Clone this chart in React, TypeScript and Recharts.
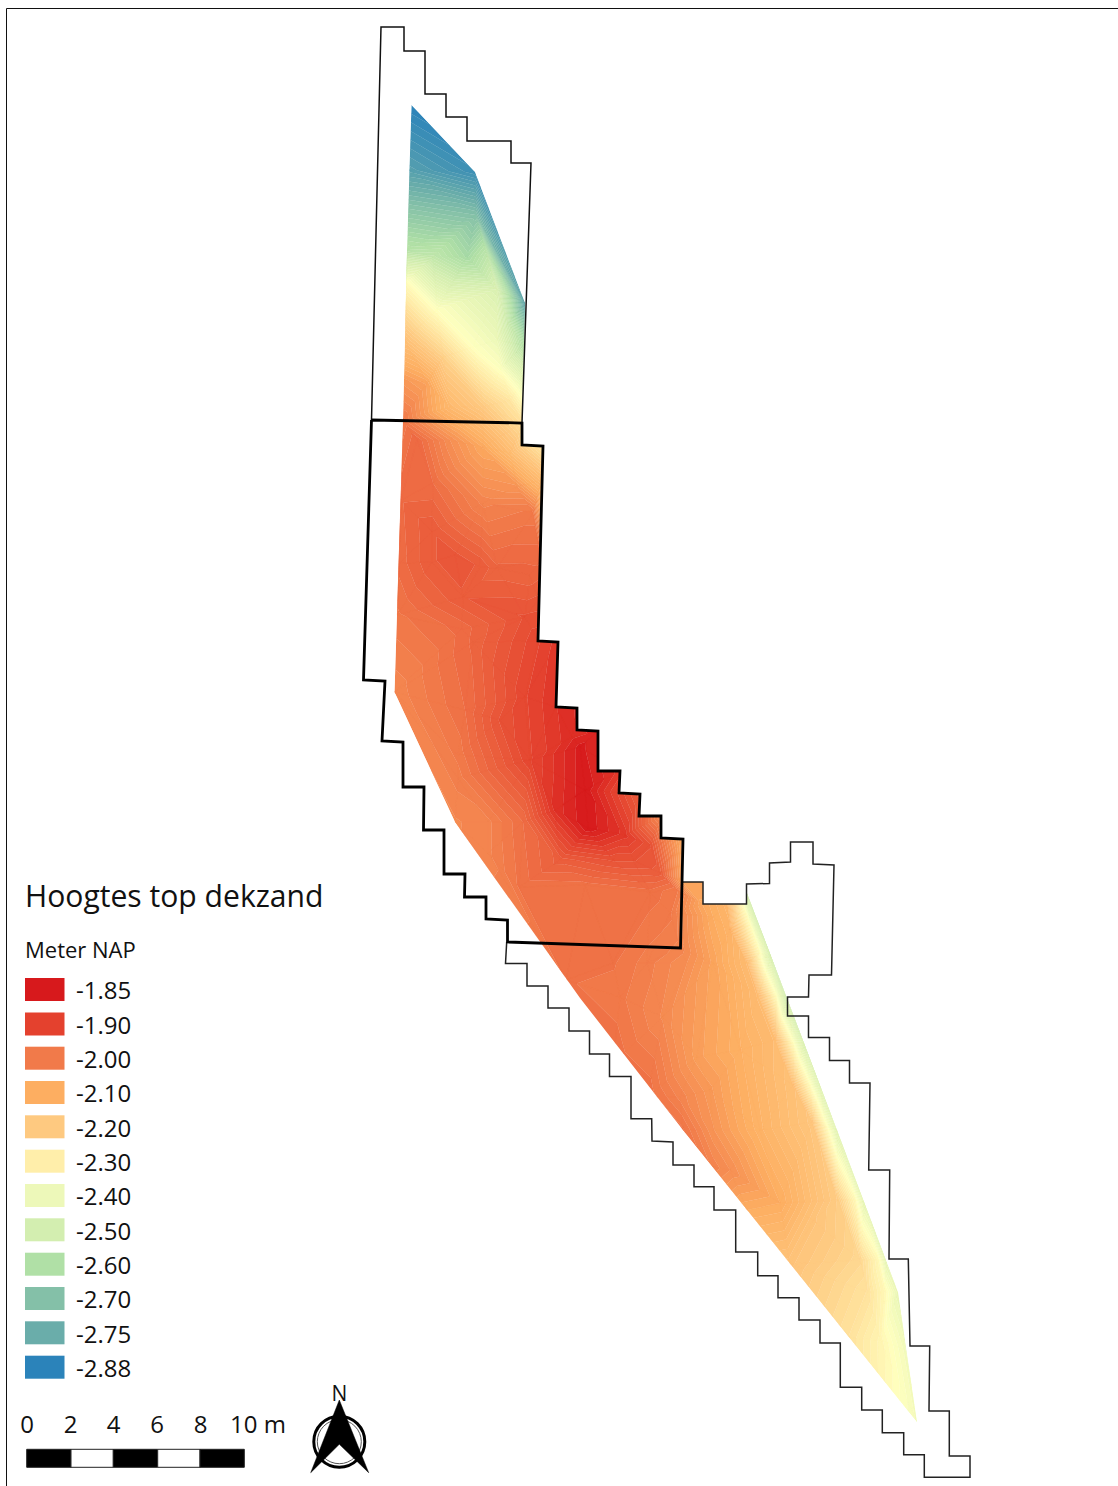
import React from 'react';
import { ScatterChart, Scatter, XAxis, YAxis, ReferenceArea } from 'recharts';

type Pt = { x: number; y: number };
const toPts = (a: number[][]): Pt[] => a.map(([x, y]) => ({ x, y }));

// Map units are the plan's own grid. Legend classes (Meter NAP)
const legendLabels = ['-1.85', '-1.90', '-2.00', '-2.10', '-2.20', '-2.30', '-2.40', '-2.50', '-2.60', '-2.70', '-2.75', '-2.88'];
const legendColors = ['#d7191c', '#e4412e', '#f17a4a', '#fdae61', '#fec980', '#ffeeaa', '#edf8b9', '#d3eeb0', '#b0e0a6', '#84c0a8', '#6aadaa', '#2b83ba'];
const legendRowY = [978, 1012.5, 1046.7, 1081, 1115.3, 1149.7, 1184, 1218.3, 1252.7, 1287, 1321.3, 1355.7];

// Colour ramp of the surface
const rampValues = [-1.85, -1.9, -2.0, -2.1, -2.2, -2.3, -2.35, -2.4, -2.5, -2.6, -2.7, -2.75, -2.88];
const rampColors = ['#d7191c', '#e4412e', '#f17a4a', '#fdae61', '#fec980', '#ffeeaa', '#ffffbf', '#edf8b9', '#d3eeb0', '#b0e0a6', '#84c0a8', '#6aadaa', '#2b83ba'];

// Survey points: x, y, top of the cover sand in m NAP
const surveyNorth = [
  [411.5, 105, -2.88], [475, 172, -2.84], [409, 170, -2.79], [407, 250, -2.58], [406.5, 282, -2.34],
  [525, 303, -2.77], [476, 215, -2.7], [487, 255, -2.56], [497, 290, -2.47], [497, 340, -2.4], [501, 368, -2.36],
  [508, 323, -2.52], [467, 257, -2.62], [433, 257, -2.55], [437, 310, -2.35], [473, 347, -2.35], [523, 345, -2.58],
  [520, 385, -2.38], [522, 423, -2.26], [405, 340, -2.17], [404, 380, -2.06], [403, 420, -2.0],
  [443, 357, -2.22], [427, 383, -2.08], [450, 407, -2.14], [483, 407, -2.2], [510, 400, -2.28],
];
const surveyMiddle = [
  [417, 440, -1.97], [450, 440, -2.04], [483, 447, -2.09], [510, 453, -2.15], [522, 445, -2.22], [543, 446, -2.28],
  [541, 480, -2.15], [517, 487, -2.05], [533, 513, -2.0], [483, 503, -2.02], [433, 483, -1.98], [401, 500, -1.97],
  [432, 532, -1.945], [432, 562, -1.945], [463, 597, -1.945], [480, 567, -1.945], [455, 555, -1.94], [497, 568, -1.965],
  [399, 563, -1.975], [397, 615, -1.995], [394.5, 692, -2.025], [462, 629, -1.975], [530, 575, -1.965], [541, 560, -1.97],
  [538, 600, -1.94], [525, 617, -1.93], [538, 641, -1.91], [558, 642, -1.89], [473, 642, -1.965], [525, 697, -1.91],
  [572, 737, -1.875], [556, 707, -1.885], [577, 708, -1.87], [465, 710, -1.98], [500, 720, -1.93], [530, 760, -1.91],
];
const surveyPeak = [
  [580, 747, -1.855], [585, 790, -1.85], [588, 828, -1.85], [598, 731, -1.87], [620, 771, -1.89], [640, 794, -1.95],
  [661, 816, -2.03], [683, 839, -2.1], [560, 860, -1.95], [585, 885, -1.985], [613, 860, -1.93], [633, 860, -1.93],
  [625, 835, -1.89], [650, 845, -1.93],
  [660, 873, -1.95], [677, 890, -2.0], [650, 892, -1.985], [683, 882, -2.08], [703, 882, -2.08], [703, 904, -2.09],
  [523, 822, -1.98], [458, 755, -2.0], [458, 778, -2.01], [455, 822, -2.03], [488, 822, -2.02], [488, 853, -2.02],
  [519, 887, -1.99], [555, 810, -1.88],
];
const surveySouth = [
  [566, 980, -1.99], [613, 963, -1.99], [647, 963, -2.01], [680, 948, -2.02], [670, 913, -2.0], [687, 963, -2.04],
  [713, 963, -2.08], [747, 963, -2.15], [730, 930, -2.12], [713, 917, -2.1], [727, 904, -2.13], [743, 905, -2.34],
  [747, 893, -2.5], [750, 925, -2.34], [760, 953, -2.34], [776, 996, -2.34], [793, 1043, -2.34], [810, 1085, -2.34], [825, 1123, -2.34],
  [771, 956, -2.48], [787, 996, -2.52], [804, 1043, -2.47], [820, 1085, -2.45], [837, 1130, -2.44],
  [758, 996, -2.15], [775, 1040, -2.15], [793, 1085, -2.17], [812, 1122, -2.19], [663, 1017, -2.03], [697, 1057, -2.07], [620, 997, -2.0],
  [613, 1063, -1.98], [647, 1097, -1.98], [683, 1130, -1.99], [680, 1097, -2.02], [710, 1090, -2.06], [740, 1050, -2.11],
  [713, 1130, -2.05], [760, 1130, -2.12], [713, 1167, -2.02], [730, 1170, -2.04], [747, 1210, -2.1], [780, 1203, -2.1],
  [790, 1264, -2.18], [850, 1338, -2.27], [917, 1422, -2.38], [813, 1220, -2.18], [838, 1200, -2.21], [860, 1260, -2.24], [868, 1292, -2.27],
  [885, 1292, -2.33], [878, 1260, -2.33], [855, 1200, -2.33], [880, 1340, -2.32], [898, 1292, -2.41], [864, 1202, -2.42], [886, 1260, -2.42], [905, 1350, -2.38],
];
const surveyPoints = [...surveyNorth, ...surveyMiddle, ...surveyPeak, ...surveySouth];
const surveyData = toPts(surveyPoints);

// Extent of the interpolated surface
const surfaceExtent = toPts([
  [411.5, 105], [475, 172], [525, 303], [522, 423], [522, 445], [543, 446], [538, 641], [558, 642], [556, 707], [577, 708],
  [577, 730], [598, 731], [598, 771], [620, 771], [619, 793], [640, 794], [639, 816], [661, 816], [661, 838], [683, 839],
  [683, 882], [703, 882], [703, 904], [746, 904], [747, 893], [837, 1130], [898, 1292], [917, 1422], [683, 1130], [580, 998],
  [455, 822], [394.5, 692], [403, 420], [407, 250], [411.5, 105],
]);

// Excavation outlines
const trenchNorth = toPts([
  [371.5, 420], [381, 27], [404, 27], [404, 51], [425, 51], [425, 94], [446, 94], [446, 117], [467, 117], [467, 141],
  [511, 141], [511, 163], [531, 163], [522, 423],
]);
const trenchMiddle = toPts([
  [371.5, 420], [522, 423], [522, 445], [543, 446], [538, 641], [558, 642], [556, 707], [577, 708], [577, 730], [598, 731],
  [598, 771], [620, 771], [619, 793], [640, 794], [639, 816], [661, 816], [661, 838], [683, 839], [680.5, 948], [507.5, 942],
  [507.5, 920], [486, 919], [486, 897], [464.5, 897], [465, 874], [444, 874], [444, 830], [423.5, 830], [424, 787], [403, 787],
  [403, 742], [382, 741], [385, 681], [363.5, 680], [371.5, 420],
]);
const trenchSouth = toPts([
  [683, 882], [703, 882], [703, 904], [746.5, 904], [746.5, 884], [769.5, 883.5], [769.5, 863], [790.5, 862], [790.5, 842],
  [813, 842], [813, 864], [834, 865], [831.5, 975], [809, 975], [808.5, 997], [787.5, 997], [787.5, 1016], [808.5, 1016],
  [808.5, 1037.5], [829.5, 1037.5], [829.5, 1060.5], [849.5, 1060.5], [849.5, 1083], [870, 1083], [868.7, 1170], [889.7, 1170],
  [889, 1259], [908.3, 1259], [910, 1346], [929.7, 1346], [929, 1411], [949.3, 1411], [949.3, 1456], [970, 1456], [970, 1477.3],
  [924.3, 1477.3], [924.3, 1454.7], [903.7, 1454.7], [903.7, 1432.7], [882.3, 1432.7], [882.3, 1410], [861.7, 1410], [861.7, 1387.3],
  [840.3, 1387.3], [840.3, 1343], [820, 1343], [820, 1320], [799, 1320], [799, 1297.7], [778, 1297.7], [778, 1275.7], [757.7, 1275.7],
  [757.7, 1252], [735.7, 1252], [735.7, 1210], [714, 1210], [714, 1186.7], [694, 1186.7], [694, 1165], [673, 1165], [673, 1142],
  [652, 1141], [651.7, 1118.7], [631, 1118.7], [631, 1076.5], [609.5, 1076.5], [609.5, 1054], [589.5, 1054], [589.5, 1031], [569, 1031],
  [569, 1008], [548, 1008], [548, 986], [527, 986], [527, 963.5], [505.5, 963.5], [506.7, 942],
]);
const frameLine = toPts([[6.5, 1486], [6.5, 8.5], [1118, 8.5]]);

// Scale bar (metres along the plan)
const scaleBreaks = [26.7, 71, 113.3, 157.7, 200, 244.3];
const scaleLabels = [
  { x: 27, y: 1433, label: '0' }, { x: 70.7, y: 1433, label: '2' }, { x: 113.5, y: 1433, label: '4' },
  { x: 157, y: 1433, label: '6' }, { x: 200.5, y: 1433, label: '8' }, { x: 258, y: 1433, label: '10 m' },
];
const titleText = [{ x: 25, y: 907, label: 'Hoogtes top dekzand' }];
const unitText = [{ x: 25, y: 958, label: 'Meter NAP' }];
const northLabel = [{ x: 339.3, y: 1401, label: 'N' }];
const northCentre = [{ x: 339.3, y: 1441.7 }];
const northArrow = toPts([[339.3, 1400], [368.7, 1472.7], [339.3, 1444.3], [310.7, 1472.7], [339.3, 1400]]);

const legendData = legendRowY.map((y, i) => ({ x: 25, y, label: legendLabels[i], color: legendColors[i] }));

const FONT = '"Open Sans", "Noto Sans", sans-serif';
const BAND = 0.012;

function hexToRgb(h: string) {
  return [1, 3, 5].map((i) => parseInt(h.slice(i, i + 2), 16));
}
function rampColor(z: number) {
  if (z >= rampValues[0]) return rampColors[0];
  for (let i = 1; i < rampValues.length; i++) {
    if (z >= rampValues[i]) {
      const t = (rampValues[i - 1] - z) / (rampValues[i - 1] - rampValues[i]);
      const a = hexToRgb(rampColors[i - 1]);
      const b = hexToRgb(rampColors[i]);
      return `rgb(${a.map((v, k) => Math.round(v + (b[k] - v) * t)).join(',')})`;
    }
  }
  return rampColors[rampColors.length - 1];
}

type V = { x: number; y: number; z: number };
function delaunay(pts: V[]) {
  const n = pts.length;
  const all = [...pts, { x: -20000, y: -20000, z: 0 }, { x: 30000, y: -20000, z: 0 }, { x: 0, y: 30000, z: 0 }];
  let tris: number[][] = [[n, n + 1, n + 2]];
  const inCirc = (t: number[], p: V) => {
    const [a, b, c] = t.map((i) => all[i]);
    const ax = a.x - p.x, ay = a.y - p.y, bx = b.x - p.x, by = b.y - p.y, cx = c.x - p.x, cy = c.y - p.y;
    const det = (ax * ax + ay * ay) * (bx * cy - cx * by) - (bx * bx + by * by) * (ax * cy - cx * ay) + (cx * cx + cy * cy) * (ax * by - bx * ay);
    const orient = (b.x - a.x) * (c.y - a.y) - (b.y - a.y) * (c.x - a.x);
    return orient > 0 ? det > 0 : det < 0;
  };
  for (let i = 0; i < n; i++) {
    const bad = tris.filter((t) => inCirc(t, all[i]));
    const good = tris.filter((t) => !inCirc(t, all[i]));
    const edges = new Map<string, number[]>();
    bad.forEach((t) => {
      [[t[0], t[1]], [t[1], t[2]], [t[2], t[0]]].forEach(([a, b]) => {
        const k = a < b ? `${a}_${b}` : `${b}_${a}`;
        if (edges.has(k)) edges.set(k, []);
        else edges.set(k, [a, b]);
      });
    });
    edges.forEach((e) => {
      if (e.length) good.push([e[0], e[1], i]);
    });
    tris = good;
  }
  return tris.filter((t) => t.every((i) => i < n)).map((t) => t.map((i) => all[i]));
}
function clipZ(poly: V[], level: number, above: boolean) {
  const out: V[] = [];
  const keep = (v: V) => (above ? v.z >= level : v.z <= level);
  poly.forEach((a, i) => {
    const b = poly[(i + 1) % poly.length];
    if (keep(a)) out.push(a);
    if (keep(a) !== keep(b)) {
      const t = (level - a.z) / (b.z - a.z);
      out.push({ x: a.x + (b.x - a.x) * t, y: a.y + (b.y - a.y) * t, z: level });
    }
  });
  return out;
}

// Contour shading of the survey points, drawn at the positions the chart's scales gave them
function ContourSurface(props: any) {
  const verts: V[] = props.points.map((p: Pt, i: number) => ({ x: p.x, y: p.y, z: surveyPoints[i][2] }));
  const tris = delaunay(verts);
  const paths = new Map<number, string>();
  tris.forEach((t) => {
    const zs = t.map((v) => v.z);
    const lo = Math.floor((Math.min(...zs) + 3) / BAND);
    const hi = Math.floor((Math.max(...zs) + 3) / BAND);
    for (let b = lo; b <= hi; b++) {
      const p = clipZ(clipZ(t, b * BAND - 3, true), (b + 1) * BAND - 3, false);
      if (p.length < 3) continue;
      const d = 'M' + p.map((v) => `${v.x.toFixed(2)} ${v.y.toFixed(2)}`).join('L') + 'Z';
      paths.set(b, (paths.get(b) || '') + d);
    }
  });
  return (
    <g clipPath="url(#surfaceExtent)">
      {[...paths.entries()].map(([b, d]) => {
        const c = rampColor((b + 0.5) * BAND - 3);
        return <path key={b} d={d} fill={c} stroke={c} strokeWidth={0.25} />;
      })}
    </g>
  );
}
function ExtentClip(props: any) {
  const d = 'M' + props.points.map((p: Pt) => `${p.x} ${p.y}`).join('L') + 'Z';
  return (
    <clipPath id="surfaceExtent">
      <path d={d} />
    </clipPath>
  );
}
const NoMark = () => <g />;
const textShape = (size: number, anchor: string) => (p: any) => (
  <text x={p.cx} y={p.cy} fontFamily={FONT} fontSize={size} fill="#111" textAnchor={anchor}>
    {p.payload.label}
  </text>
);
const LegendRow = (p: any) => (
  <g>
    <rect x={p.cx} y={p.cy} width={39.5} height={23} fill={p.payload.color} />
    <text x={p.cx + 51} y={p.cy + 21.3} fontFamily={FONT} fontSize={24} fill="#111">
      {p.payload.label}
    </text>
  </g>
);
const NorthRing = (p: any) => (
  <g fill="none">
    <circle cx={p.cx} cy={p.cy} r={25.5} stroke="#000" strokeWidth={3} />
    <circle cx={p.cx} cy={p.cy} r={22} stroke="#555" strokeWidth={1} />
  </g>
);

export default function App() {
  return (
    <div style={{ position: 'absolute', left: 0, top: 0, width: 1118, height: 1486, background: '#fff' }}>
      <ScatterChart width={1118} height={1486} margin={{ top: 0, right: 0, bottom: 0, left: 0 }}>
        <XAxis type="number" dataKey="x" domain={[0, 1118]} hide allowDataOverflow />
        <YAxis type="number" dataKey="y" domain={[0, 1486]} reversed hide allowDataOverflow />
        <Scatter data={surfaceExtent} shape={NoMark} line={ExtentClip} isAnimationActive={false} />
        <Scatter data={surveyData} shape={NoMark} line={ContourSurface} isAnimationActive={false} />
        <Scatter data={frameLine} shape={NoMark} line={{ stroke: '#111', strokeWidth: 1, fill: 'none' }} isAnimationActive={false} />
        <Scatter data={trenchNorth} shape={NoMark} line={{ stroke: '#111', strokeWidth: 1.5, fill: 'none' }} isAnimationActive={false} />
        <Scatter data={trenchSouth} shape={NoMark} line={{ stroke: '#222', strokeWidth: 1.5, fill: 'none' }} isAnimationActive={false} />
        <Scatter data={trenchMiddle} shape={NoMark} line={{ stroke: '#000', strokeWidth: 2.8, fill: 'none' }} isAnimationActive={false} />
        <Scatter data={titleText} shape={textShape(30.1, 'start')} isAnimationActive={false} />
        <Scatter data={unitText} shape={textShape(22, 'start')} isAnimationActive={false} />
        <Scatter data={legendData} shape={LegendRow} isAnimationActive={false} />
        {scaleBreaks.slice(0, -1).map((x, i) => (
          <ReferenceArea key={x} x1={x} x2={scaleBreaks[i + 1]} y1={1449.3} y2={1467.3} fill={i % 2 ? '#fff' : '#000'} fillOpacity={1} stroke="#222" strokeWidth={1} />
        ))}
        <Scatter data={scaleLabels} shape={textShape(24, 'middle')} isAnimationActive={false} />
        <Scatter data={northCentre} shape={NorthRing} isAnimationActive={false} />
        <Scatter data={northArrow} shape={NoMark} line={{ stroke: '#000', strokeWidth: 0.5, fill: '#000' }} isAnimationActive={false} />
        <Scatter data={northLabel} shape={textShape(21, 'middle')} isAnimationActive={false} />
      </ScatterChart>
    </div>
  );
}
